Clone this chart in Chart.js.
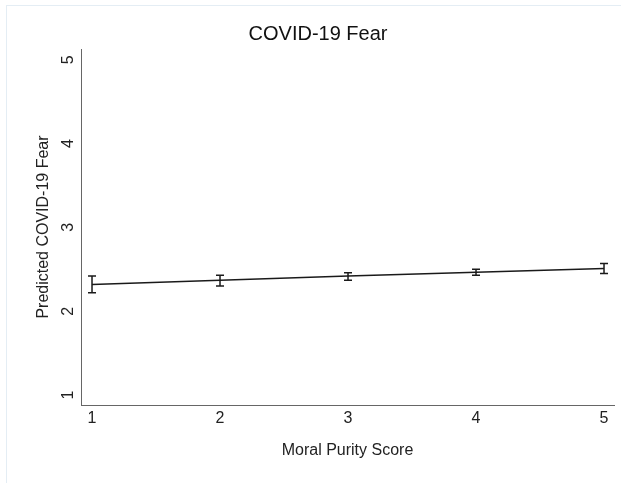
<!DOCTYPE html>
<html>
<head>
<meta charset="utf-8">
<script src="https://cdn.jsdelivr.net/npm/chart.js@4"></script>
<style>
  html, body { margin: 0; padding: 0; background: #fff; }
  #wrap { position: relative; width: 621px; height: 483px; }
  #frame { position: absolute; left: 6px; top: 5px; right: 0; bottom: 0;
           border-left: 1px solid #e4edf4; border-top: 1px solid #e4edf4; }
  #fear { position: absolute; left: 0; top: 0; }
</style>
</head>
<body>
<div id="wrap">
  <div id="frame"></div>
  <canvas id="fear" width="621" height="483"></canvas>
</div>
<script>
// Moral purity score levels and predicted fear with 95% CI
const purityScores = [1, 2, 3, 4, 5];
const predictedFear = [2.32, 2.37, 2.42, 2.465, 2.51];
const ciLower = [2.22, 2.30, 2.37, 2.43, 2.45];
const ciUpper = [2.42, 2.43, 2.46, 2.50, 2.57];
const xTicks = [1, 2, 3, 4, 5];
const yTicks = [1, 2, 3, 4, 5];

const FONT = "'Liberation Sans', Arial, sans-serif";

// draws the confidence interval caps through the chart scales
const errorBars = {
    id: 'errorBars',
    afterDatasetsDraw(chart) {
        const ctx = chart.ctx;
        const xs = chart.scales.x;
        const ys = chart.scales.y;
        ctx.save();
        ctx.strokeStyle = '#1a1a1a';
        ctx.lineWidth = 1.5;
        purityScores.forEach((v, i) => {
            const px = xs.getPixelForValue(v);
            const lo = ys.getPixelForValue(ciLower[i]);
            const hi = ys.getPixelForValue(ciUpper[i]);
            ctx.beginPath();
            ctx.moveTo(px, lo);
            ctx.lineTo(px, hi);
            ctx.moveTo(px - 4, lo);
            ctx.lineTo(px + 4, lo);
            ctx.moveTo(px - 4, hi);
            ctx.lineTo(px + 4, hi);
            ctx.stroke();
        });
        ctx.restore();
    }
};

const config = {
    type: 'line',
    data: {
        datasets: [{
            label: 'Predicted COVID-19 Fear',
            data: purityScores.map((x, i) => ({x: x, y: predictedFear[i]})),
            borderColor: '#1a1a1a',
            borderWidth: 1.5,
            pointRadius: 0,
            tension: 0,
            fill: false
        }]
    },
    options: {
        responsive: false,
        animation: false,
        devicePixelRatio: 1,
        layout: { padding: { left: 22, right: 7, top: 0, bottom: 0 } },
        plugins: {
            legend: { display: false },
            tooltip: { enabled: false },
            title: {
                display: true,
                text: 'COVID-19 Fear',
                color: '#111',
                font: { family: FONT, size: 20, weight: 'normal' },
                padding: { top: 22, bottom: 3 }
            }
        },
        scales: {
            x: {
                type: 'linear',
                min: 0.914,
                max: 5.078,
                afterBuildTicks: s => { s.ticks = xTicks.map(v => ({value: v})); },
                afterFit: s => { s.height = 78; },
                grid: { display: false, drawTicks: false },
                border: { display: true, color: '#666', width: 1 },
                ticks: {
                    color: '#222',
                    padding: 4,
                    maxRotation: 0,
                    font: { family: FONT, size: 16 }
                },
                title: {
                    display: true,
                    text: 'Moral Purity Score',
                    color: '#222',
                    font: { family: FONT, size: 16 },
                    padding: { top: 0, bottom: 23 }
                }
            },
            y: {
                type: 'linear',
                min: 0.88,
                max: 5.13,
                afterBuildTicks: s => { s.ticks = yTicks.map(v => ({value: v})); },
                afterFit: s => { s.width = 59; },
                grid: { display: false, drawTicks: false },
                border: { display: true, color: '#666', width: 1 },
                ticks: {
                    color: '#222',
                    padding: 8,
                    minRotation: 90,
                    maxRotation: 90,
                    crossAlign: 'center',
                    font: { family: FONT, size: 16 }
                },
                title: {
                    display: true,
                    text: 'Predicted COVID-19 Fear',
                    color: '#222',
                    font: { family: FONT, size: 16 },
                    padding: { top: 12, bottom: 0 }
                }
            }
        }
    },
    plugins: [errorBars]
};

const ctx = document.getElementById('fear').getContext('2d');
const chart = new Chart(ctx, config);
</script>
</body>
</html>
